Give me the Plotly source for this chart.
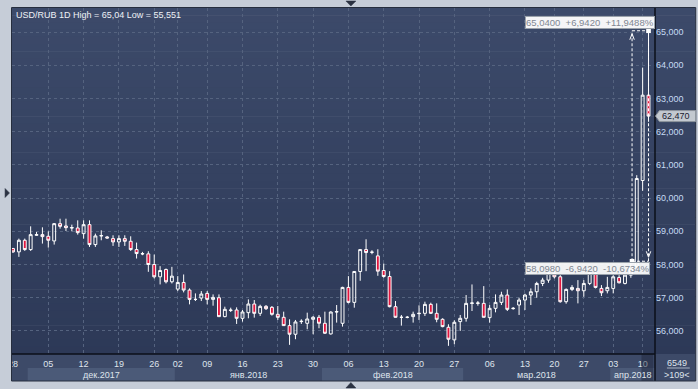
import plotly.graph_objects as go

# ---------------- data ----------------
opens = [58.48, 58.38, 58.73, 58.45, 58.88, 58.90, 58.85, 58.71, 59.23, 59.16,
         59.10, 59.10, 58.93, 59.20, 58.60, 58.86, 58.83, 58.78, 58.68, 58.78,
         58.70, 58.45, 58.33, 58.32, 58.00, 57.63, 57.85, 57.48, 57.26, 57.46,
         57.23, 56.95, 56.99, 57.13, 56.95, 57.00, 56.43, 56.63, 56.63, 56.38,
         56.55, 56.81, 56.53, 56.74, 56.71, 56.50, 56.41, 56.16, 55.90, 56.28,
         56.23, 56.35, 56.41, 56.23, 55.91, 56.57, 56.23, 57.31, 56.86, 57.79,
         58.45, 58.37, 58.26, 57.82, 57.64, 56.73, 56.41, 56.41, 56.43, 56.52,
         56.53, 56.80, 56.53, 56.35, 56.11, 55.73, 56.28, 56.38, 56.83, 56.83,
         56.83, 56.40, 56.68, 56.86, 57.08, 56.67, 56.78, 56.93, 57.08, 57.18,
         57.43, 57.53, 57.73, 57.63, 56.88, 57.25, 57.28, 57.21, 57.43, 57.73,
         57.28, 57.21, 57.28, 57.61, 57.43, 57.68, 57.95, 60.53, 63.10]
highs = [58.50, 58.78, 58.78, 59.15, 58.98, 59.12, 59.00, 59.25, 59.38, 59.38,
         59.20, 59.33, 59.33, 59.33, 58.93, 59.03, 58.86, 58.88, 58.88, 58.88,
         58.85, 58.66, 58.38, 58.40, 58.30, 57.95, 57.88, 57.93, 57.65, 57.70,
         57.28, 57.13, 57.20, 57.20, 57.10, 57.10, 56.73, 56.70, 56.71, 56.63,
         56.95, 56.93, 56.79, 56.78, 56.75, 56.75, 56.58, 56.35, 56.33, 56.35,
         56.55, 56.45, 56.48, 56.58, 56.59, 56.78, 57.33, 57.65, 57.79, 58.46,
         58.76, 58.43, 58.46, 58.03, 57.80, 56.90, 56.48, 56.45, 56.58, 56.77,
         56.88, 56.85, 56.83, 56.38, 56.20, 56.32, 56.48, 57.08, 57.40, 56.90,
         57.35, 56.78, 57.10, 57.18, 57.25, 56.72, 57.00, 57.12, 57.28, 57.48,
         57.60, 57.78, 57.85, 57.68, 57.28, 57.38, 57.53, 57.53, 57.80, 57.88,
         57.38, 57.63, 57.68, 57.68, 57.73, 58.00, 60.69, 63.93, 65.04]
lows = [58.35, 58.23, 58.41, 58.41, 58.86, 58.63, 58.51, 58.60, 59.08, 59.01,
        59.00, 58.90, 58.78, 58.53, 58.53, 58.73, 58.78, 58.56, 58.53, 58.56,
        58.41, 58.18, 58.28, 57.78, 57.58, 57.40, 57.43, 57.43, 57.20, 57.16,
        56.80, 56.90, 56.90, 56.80, 56.76, 56.43, 56.41, 56.57, 56.21, 56.28,
        56.38, 56.40, 56.45, 56.63, 56.46, 56.33, 56.15, 55.58, 55.75, 56.21,
        56.05, 55.90, 56.08, 55.91, 55.89, 56.25, 56.13, 56.83, 56.70, 57.51,
        57.80, 58.31, 57.66, 57.60, 56.71, 56.40, 56.16, 56.38, 56.25, 56.33,
        56.45, 56.51, 56.26, 56.11, 55.551, 55.60, 56.00, 56.28, 56.60, 56.76,
        56.41, 56.25, 56.56, 56.78, 56.60, 56.64, 56.48, 56.63, 56.78, 57.00,
        57.35, 57.45, 57.58, 56.85, 56.82, 57.20, 56.83, 57.03, 57.38, 57.28,
        57.05, 57.13, 57.13, 57.43, 57.40, 57.60, 57.90, 60.22, 62.30]
closes = [58.38, 58.73, 58.45, 58.90, 58.90, 58.84, 58.73, 59.23, 59.15, 59.11,
          59.11, 58.96, 59.20, 58.60, 58.86, 58.87, 58.80, 58.68, 58.78, 58.70,
          58.45, 58.33, 58.32, 58.00, 57.63, 57.82, 57.48, 57.65, 57.46, 57.23,
          56.95, 56.95, 57.11, 56.95, 57.01, 56.43, 56.65, 56.62, 56.38, 56.57,
          56.81, 56.53, 56.74, 56.67, 56.50, 56.41, 56.16, 55.90, 56.27, 56.29,
          56.36, 56.41, 56.23, 55.93, 56.57, 56.58, 57.31, 56.86, 57.79, 58.45,
          58.36, 58.37, 57.80, 57.64, 56.73, 56.41, 56.41, 56.41, 56.50, 56.53,
          56.80, 56.53, 56.35, 56.13, 55.75, 56.26, 56.38, 56.83, 56.84, 56.84,
          56.41, 56.68, 56.86, 57.08, 56.65, 56.68, 56.93, 57.08, 57.18, 57.43,
          57.53, 57.73, 57.63, 56.88, 57.25, 57.31, 57.21, 57.43, 57.73, 57.31,
          57.15, 57.31, 57.63, 57.45, 57.68, 57.93, 60.59, 63.10, 62.47]
candle_idx = list(range(1, len(opens) + 1))

tick_pos = [1, 7, 13, 19, 25, 29, 34, 40, 46, 52, 58, 64, 70, 76, 82, 88, 93, 98, 103, 108]
tick_text = ["28", "05", "12", "19", "26", "02", "09", "16", "23", "30",
             "06", "13", "20", "27", "06", "13", "20", "27", "03", "10"]
month_names = ["дек.2017", "янв.2018", "фев.2018", "мар.2018", "апр.2018"]
month_start = [3.5, 28.5, 53.5, 77.5, 102.5]
price_ticks = [56, 57, 58, 59, 60, 61, 62, 63, 64, 65]
measure_from = 58.098
measure_to = 65.04
measure_x = [106.2, 109]
bar_count_text = "6549"
visible_text = ">109<"

# ---------------- geometry helpers ----------------
W, H = 698, 389
L, R, T, B = 8, 655, 8, 354
RIGHT_EDGE, BOTTOM_EDGE = 696, 381
X_RANGE = [0.83, 110.1]
Y_RANGE = [55.305, 65.725]


def px(x):
    return (x - L) / (R - L)


def py(y):
    return (B - y) / (B - T)


FONT = "Liberation Sans, Arial, sans-serif"

fig = go.Figure()
fig.add_trace(go.Candlestick(
    x=candle_idx, open=opens, high=highs, low=lows, close=closes,
    increasing=dict(line=dict(color="#ffffff", width=1), fillcolor="rgba(0,0,0,0)"),
    decreasing=dict(line=dict(color="#ffffff", width=1), fillcolor="#e2163f"),
    whiskerwidth=0, hoverinfo="skip", showlegend=False,
))

shapes = []
# gradient background (plot + right price panel)
n = 48
top_c = (60, 74, 106)
bot_c = (45, 57, 87)
for k in range(n):
    t = (k + 0.5) / n
    c = tuple(round(top_c[i] + (bot_c[i] - top_c[i]) * t) for i in range(3))
    ya = T + (B - T) * k / n
    yb = T + (B - T) * (k + 1) / n + 0.6
    shapes.append(dict(type="rect", xref="paper", yref="paper", layer="below",
                       x0=px(L), x1=px(RIGHT_EDGE), y0=py(min(yb, B)), y1=py(ya),
                       fillcolor="rgb(%d,%d,%d)" % c, line_width=0))
# x-axis strip
shapes.append(dict(type="rect", xref="paper", yref="paper", layer="below",
                   x0=px(L), x1=px(RIGHT_EDGE), y0=py(BOTTOM_EDGE), y1=py(B),
                   fillcolor="#3d4a68", line_width=0))
# month bands (alternate lighter)
for i, s in enumerate(month_start):
    e = month_start[i + 1] if i + 1 < len(month_start) else X_RANGE[1]
    if i % 2 == 0:
        shapes.append(dict(type="rect", xref="x", yref="paper", layer="below",
                           x0=s, x1=e, y0=py(BOTTOM_EDGE), y1=py(368),
                           fillcolor="#4b5a78", line_width=0))
# current candle highlight in axis strip
shapes.append(dict(type="rect", xref="x", yref="paper", layer="above",
                   x0=107.8, x1=109.8, y0=py(BOTTOM_EDGE), y1=py(B),
                   fillcolor="rgba(28,36,56,0.45)", line_width=0))
# separator lines
shapes.append(dict(type="line", xref="paper", yref="paper", layer="above",
                   x0=px(L), x1=px(R), y0=py(B), y1=py(B),
                   line=dict(color="#0b0f18", width=1.5)))
shapes.append(dict(type="line", xref="paper", yref="paper", layer="above",
                   x0=px(R), x1=px(R), y0=py(BOTTOM_EDGE), y1=py(T),
                   line=dict(color="#0b0f18", width=1.5)))
# left grey strip + frame
shapes.append(dict(type="rect", xref="paper", yref="paper", layer="above",
                   x0=px(0), x1=px(7.5), y0=py(H), y1=py(0),
                   fillcolor="#c6cdd8", line_width=0))
shapes.append(dict(type="rect", xref="paper", yref="paper", layer="above",
                   x0=px(7.5), x1=px(RIGHT_EDGE), y0=py(BOTTOM_EDGE), y1=py(7.5),
                   fillcolor="rgba(0,0,0,0)", line=dict(color="#262e3e", width=1)))
# bar count separator
shapes.append(dict(type="line", xref="paper", yref="paper", layer="above",
                   x0=px(667), x1=px(690), y0=py(368), y1=py(368),
                   line=dict(color="#aab4c4", width=1)))
# UI triangles (scroll handles)
tri_col = "#2b3242"
for pts in ([(344, 1), (354, 1), (349, 6)],
            [(344, 388), (354, 388), (349, 382.5)],
            [(1, 188.5), (1, 197.5), (5.5, 193)]):
    path = "M " + " L ".join("%f,%f" % (px(a), py(b)) for a, b in pts) + " Z"
    shapes.append(dict(type="path", xref="paper", yref="paper", layer="above",
                       path=path, fillcolor=tri_col, line=dict(color=tri_col, width=0.5)))

# measurement tool
xl, xr = measure_x
dash = dict(color="#ffffff", width=1, dash="3px,2px")
shapes += [
    dict(type="line", xref="x", yref="y", layer="above", x0=xl, x1=xl,
         y0=measure_from, y1=measure_to, line=dash),
    dict(type="line", xref="x", yref="y", layer="above", x0=xr, x1=xr,
         y0=measure_from, y1=measure_to, line=dash),
    dict(type="line", xref="x", yref="y", layer="above", x0=xl, x1=xr,
         y0=measure_to, y1=measure_to, line=dash),
    dict(type="line", xref="x", yref="y", layer="above", x0=xl, x1=xr,
         y0=measure_from, y1=measure_from, line=dash),
    dict(type="path", xref="x", yref="y", layer="above",
         path="M %f,%f L %f,%f L %f,%f" % (xl - 0.38, measure_to - 0.27, xl, measure_to - 0.09,
                                           xl + 0.38, measure_to - 0.27),
         line=dict(color="#ffffff", width=1)),
    dict(type="path", xref="x", yref="y", layer="above",
         path="M %f,%f L %f,%f L %f,%f" % (xr - 0.38, measure_from + 0.30, xr, measure_from + 0.12,
                                           xr + 0.38, measure_from + 0.30),
         line=dict(color="#ffffff", width=1)),
    dict(type="rect", xref="x", yref="y", layer="above", x0=xr - 0.4, x1=xr + 0.4,
         y0=measure_to - 0.07, y1=measure_to + 0.07, fillcolor="#ffffff", line_width=0),
    dict(type="rect", xref="x", yref="y", layer="above", x0=xl - 0.4, x1=xl + 0.4,
         y0=measure_from - 0.07, y1=measure_from + 0.07, fillcolor="#ffffff", line_width=0),
]

# last price box
last = closes[-1]
hh = 5.5 / 33.11
shapes.append(dict(type="path", xref="paper", yref="y", layer="above",
                   path="M %f,%f L %f,%f L %f,%f L %f,%f L %f,%f Z" % (
                       px(655.5), last, px(659.5), last + hh, px(696), last + hh,
                       px(696), last - hh, px(659.5), last - hh),
                   fillcolor="#c3c9d0", line=dict(color="#8d949c", width=1)))

annotations = []


def fnum(v, d):
    return ("%.*f" % (d, v)).replace(".", ",")


def fshort(v):
    return ("%g" % v).replace(".", ",")


title = "USD/RUB 1D High = %s Low = %s" % (fshort(max(highs)), fshort(min(lows)))
annotations.append(dict(text=title, xref="paper", yref="paper", x=px(10), y=py(15),
                        xanchor="left", yanchor="middle", showarrow=False,
                        font=dict(family=FONT, size=9, color="#eef1f6")))
for i, s in enumerate(month_start):
    e = month_start[i + 1] if i + 1 < len(month_start) else X_RANGE[1]
    annotations.append(dict(text=month_names[i], xref="x", yref="paper", x=(s + e) / 2, y=py(374.5),
                            xanchor="center", yanchor="middle", showarrow=False,
                            font=dict(family=FONT, size=9, color="#dfe4ec")))
annotations.append(dict(text=bar_count_text, xref="paper", yref="paper", x=px(677), y=py(362.5),
                        xanchor="center", yanchor="middle", showarrow=False,
                        font=dict(family=FONT, size=9, color="#dfe4ec")))
annotations.append(dict(text=visible_text, xref="paper", yref="paper", x=px(677), y=py(374.5),
                        xanchor="center", yanchor="middle", showarrow=False,
                        font=dict(family=FONT, size=9, color="#dfe4ec")))
annotations.append(dict(text=fnum(last, 3), xref="paper", yref="y", x=px(660), y=last,
                        xanchor="left", yanchor="middle", showarrow=False,
                        font=dict(family=FONT, size=9, color="#1a2030")))

diff = measure_to - measure_from
pct_up = diff / measure_from * 100
pct_dn = -diff / measure_to * 100
sp = "\u00a0 "
top_text = fnum(measure_to, 4) + sp + "+" + fnum(diff, 4) + sp + "+" + fnum(pct_up, 4) + "%"
bot_text = fnum(measure_from, 4) + sp + "-" + fnum(diff, 4) + sp + fnum(pct_dn, 4) + "%"
annotations.append(dict(text=top_text, xref="paper", yref="y", x=px(655), y=measure_to,
                        xanchor="right", yanchor="bottom", yshift=2, showarrow=False,
                        bgcolor="rgba(255,255,255,0.95)", bordercolor="#9aa2ab", borderwidth=1,
                        borderpad=0, width=128, align="left",
                        font=dict(family=FONT, size=9.5, color="#7f8792")))
annotations.append(dict(text=bot_text, xref="paper", yref="y", x=px(650), y=measure_from,
                        xanchor="right", yanchor="top", yshift=-1, showarrow=False,
                        bgcolor="rgba(255,255,255,0.93)", bordercolor="#9aa2ab", borderwidth=1,
                        borderpad=0, width=123, align="left",
                        font=dict(family=FONT, size=9.5, color="#7f8792")))

fig.update_layout(
    width=W, height=H,
    margin=dict(l=L, r=W - R, t=T, b=H - B, pad=0),
    paper_bgcolor="#c6cdd8",
    plot_bgcolor="rgba(0,0,0,0)",
    separators=",.",
    showlegend=False,
    shapes=shapes,
    annotations=annotations,
    xaxis=dict(range=X_RANGE, tickmode="array", tickvals=tick_pos, ticktext=tick_text,
               showgrid=True, gridcolor="#55637f", griddash="3px,3px", gridwidth=1,
               ticks="", zeroline=False, showline=False, rangeslider=dict(visible=False),
               ticklabelstandoff=3,
               tickfont=dict(family=FONT, size=9, color="#dfe4ec"), fixedrange=True),
    yaxis=dict(range=Y_RANGE, side="right", tickmode="array", tickvals=price_ticks,
               tickformat=".3f", showgrid=True, gridcolor="#55637f", griddash="3px,3px",
               gridwidth=1, ticks="", zeroline=False, showline=False,
               tickfont=dict(family=FONT, size=9, color="#c6dbf4"), fixedrange=True),
)

fig.write_html("out.html")
